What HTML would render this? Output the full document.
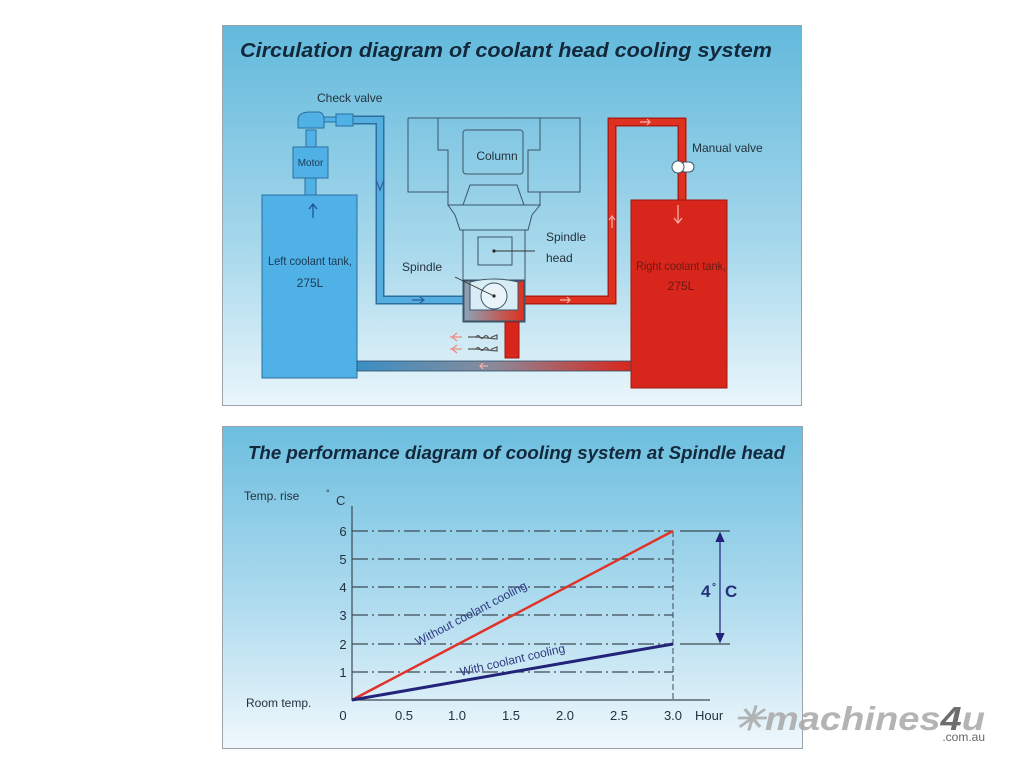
<!DOCTYPE html>
<html><head><meta charset="utf-8"><style>
html,body{margin:0;padding:0;background:#fff;width:1024px;height:768px;overflow:hidden}
svg{display:block}
text{font-family:"Liberation Sans",sans-serif}
</style></head><body>
<svg width="1024" height="768" viewBox="0 0 1024 768" xmlns="http://www.w3.org/2000/svg">
<defs>
<linearGradient id="bg1" x1="0" y1="0" x2="0" y2="1">
<stop offset="0" stop-color="#62b9dc"/><stop offset="0.6" stop-color="#a9d9ec"/><stop offset="1" stop-color="#eaf6fb"/></linearGradient>
<linearGradient id="bg2" x1="0" y1="0" x2="0" y2="1">
<stop offset="0" stop-color="#6cbedf"/><stop offset="0.6" stop-color="#b5def0"/><stop offset="1" stop-color="#f0f8fc"/></linearGradient>
<linearGradient id="pb" x1="0" y1="0" x2="1" y2="0">
<stop offset="0" stop-color="#3a8fc4"/><stop offset="0.5" stop-color="#8a8a9a"/><stop offset="1" stop-color="#d9261c"/></linearGradient>
<linearGradient id="sp" x1="0" y1="0" x2="1" y2="0">
<stop offset="0" stop-color="#8aa4b8"/><stop offset="1" stop-color="#e0301f"/></linearGradient>
</defs>
<!-- top panel -->
<rect x="222.5" y="25.5" width="579" height="380" fill="url(#bg1)" stroke="#9aa4aa"/>
<text x="240" y="57" font-size="20" font-weight="bold" font-style="italic" fill="#13283a" textLength="532" lengthAdjust="spacingAndGlyphs">Circulation diagram of coolant head cooling system</text>
<!-- blue pipe -->
<path d="M352 120 H380 V300 H463" fill="none" stroke="#2c6f9f" stroke-width="9"/>
<path d="M352 120 H380 V300 H463" fill="none" stroke="#55aee0" stroke-width="6"/>
<path d="M376 180 l4 10 l4 -10" fill="none" stroke="#2c5f9f" stroke-width="1.2"/>
<path d="M412 300 h12 m-4 -3 l4 3 l-4 3" fill="none" stroke="#2c5f9f" stroke-width="1.3"/>
<!-- left tank -->
<rect x="262" y="195" width="95" height="183" fill="#4fb1e6" stroke="#2c6f9f"/>
<text x="310" y="265" font-size="12" fill="#1b3a55" text-anchor="middle" textLength="84" lengthAdjust="spacingAndGlyphs">Left coolant tank,</text>
<text x="310" y="287" font-size="12" fill="#1b3a55" text-anchor="middle">275L</text>
<path d="M313 218 V204 m-4 5 l4 -5 l4 5" fill="none" stroke="#1f4fa0" stroke-width="1.3"/>
<rect x="305" y="178" width="11" height="17" fill="#4fb1e6" stroke="#2c6f9f"/>
<rect x="293" y="147" width="35" height="31" fill="#4fb1e6" stroke="#2c6f9f"/>
<text x="310.5" y="166" font-size="10" fill="#1b3a55" text-anchor="middle">Motor</text>
<rect x="306" y="130" width="10" height="17" fill="#4fb1e6" stroke="#2c6f9f"/>
<path d="M298 128 v-8 q0 -8 12 -8 h8 q6 0 6 8 v8 z" fill="#4fb1e6" stroke="#2c6f9f"/>
<rect x="324" y="117" width="12" height="5" fill="#4fb1e6" stroke="#2c6f9f"/>
<rect x="336" y="114" width="17" height="12" fill="#4fb1e6" stroke="#2c6f9f"/>
<text x="317" y="102" font-size="12" fill="#24323e">Check valve</text>
<!-- column -->
<g fill="none" stroke="#3b5568" stroke-width="1">
<path d="M408 118 H580 V192 H528 V150 H540 V118 M408 118 V192 H448 V150 H438 V118"/>
<rect x="463" y="130" width="60" height="44" rx="3"/>
<path d="M448 192 V205 H463 L470 185 H517 L524 205 H540 V192"/>
<path d="M448 205 H540 L532 215 L528 230 H460 L455 215 Z"/>
<path d="M460 230 H528 M463 230 V280 M525 230 V280"/>
<rect x="478" y="237" width="34" height="28"/>
<rect x="463" y="280" width="62" height="42"/>
</g>
<text x="497" y="160" font-size="12" fill="#24323e" text-anchor="middle">Column</text>
<rect x="464" y="281" width="60" height="40" fill="url(#sp)" stroke="#3b5568"/>
<path d="M470 282 V310 H518 V282 Q494 276 470 282" fill="#d8ecf5" stroke="#3b5568"/>
<circle cx="494" cy="296" r="13" fill="#e8f4fa" stroke="#3b5568"/>
<circle cx="494" cy="296" r="1.6" fill="#222"/>
<circle cx="494" cy="251" r="1.6" fill="#222"/>
<path d="M494 251 H535 M494 296 L455 277" stroke="#333" stroke-width="0.9"/>
<text x="546" y="241" font-size="12" fill="#24323e">Spindle</text>
<text x="546" y="262" font-size="12" fill="#24323e">head</text>
<text x="402" y="271" font-size="12" fill="#24323e">Spindle</text>
<!-- red pipe -->
<path d="M525 300 H612 V122 H682 V200" fill="none" stroke="#b01c14" stroke-width="9"/>
<path d="M525 300 H612 V122 H682 V200" fill="none" stroke="#e0301f" stroke-width="6"/>
<path d="M560 300 h10 m-3 -3 l3 3 l-3 3" fill="none" stroke="#f7b0a8" stroke-width="1.2"/>
<path d="M612 228 v-12 m-3 4 l3 -4 l3 4" fill="none" stroke="#f7b0a8" stroke-width="1.2"/>
<path d="M640 122 h10 m-3 -3 l3 3 l-3 3" fill="none" stroke="#f7b0a8" stroke-width="1.2"/>
<rect x="680" y="162" width="14" height="10" rx="5" fill="#fff" stroke="#3b5568"/>
<circle cx="678" cy="167" r="6" fill="#fff" stroke="#3b5568"/>
<text x="692" y="152" font-size="12" fill="#24323e">Manual valve</text>
<!-- right tank -->
<rect x="631" y="200" width="96" height="188" fill="#d9261c" stroke="#9c1a12"/>
<path d="M678 205 v18 m-4 -5 l4 5 l4 -5" fill="none" stroke="#f7b0a8" stroke-width="1.3"/>
<text x="681" y="270" font-size="12" fill="#6a1a12" text-anchor="middle" textLength="90" lengthAdjust="spacingAndGlyphs">Right coolant tank,</text>
<text x="681" y="290" font-size="12" fill="#6a1a12" text-anchor="middle">275L</text>
<!-- bottom pipe -->
<rect x="357" y="361" width="274" height="10" fill="url(#pb)" stroke="#2c4f6a" stroke-width="0.8"/>
<path d="M488 366 h-8 m3 -3 l-3 3 l3 3" fill="none" stroke="#f7b0a8" stroke-width="1.2"/>
<!-- drain -->
<rect x="505" y="322" width="14" height="36" fill="#d9261c" stroke="#9c1a12"/>
<g stroke="#555" stroke-width="1.2" fill="none">
<path d="M468 337 H476 M468 349 H476"/>
<path d="M476 337 q2 -3 4 0 q2 3 4 0 q2 -3 4 0 q2 3 4 0 l5 -2 v4 z M476 349 q2 -3 4 0 q2 3 4 0 q2 -3 4 0 q2 3 4 0 l5 -2 v4 z"/>
</g>
<path d="M450 337 h12 m-5 -4 l-5 4 l5 4 M450 349 h12 m-5 -4 l-5 4 l5 4" fill="none" stroke="#f08a80" stroke-width="1.3"/>

<!-- bottom panel -->
<rect x="222.5" y="426.5" width="580" height="322" fill="url(#bg2)" stroke="#9aa4aa"/>
<text x="248" y="459" font-size="18.5" font-weight="bold" font-style="italic" fill="#13283a" textLength="537" lengthAdjust="spacingAndGlyphs">The performance diagram of cooling system at Spindle head</text>
<text x="244" y="500" font-size="12" fill="#24323e">Temp. rise</text>
<text x="326" y="496" font-size="9" fill="#24323e">°</text>
<text x="336" y="505" font-size="13" fill="#24323e">C</text>
<g stroke="#3c4a55" stroke-width="1.3" stroke-dasharray="16 4 2 4" fill="none">
<path d="M352 531 H673 M352 559 H673 M352 587 H673 M352 615 H673 M352 644 H673 M352 672 H673"/>
</g>
<path d="M673 531 V700" stroke="#3c4a55" stroke-width="1" stroke-dasharray="6 3" fill="none"/>
<path d="M352 506 V700 H710" stroke="#3c4a55" stroke-width="1.2" fill="none"/>
<g font-size="13" fill="#24323e" text-anchor="middle">
<text x="343" y="536">6</text><text x="343" y="564">5</text><text x="343" y="592">4</text><text x="343" y="620">3</text><text x="343" y="649">2</text><text x="343" y="677">1</text>
<text x="343" y="720">0</text><text x="404" y="720">0.5</text><text x="457" y="720">1.0</text><text x="511" y="720">1.5</text><text x="565" y="720">2.0</text><text x="619" y="720">2.5</text><text x="673" y="720">3.0</text>
</g>
<text x="695" y="720" font-size="13" fill="#24323e">Hour</text>
<text x="246" y="707" font-size="12" fill="#24323e">Room temp.</text>
<line x1="352" y1="700" x2="673" y2="531" stroke="#e0332a" stroke-width="2.5"/>
<line x1="352" y1="700" x2="673" y2="644" stroke="#23237a" stroke-width="3"/>
<text font-size="12" fill="#2e3a80" transform="translate(418 646) rotate(-27.8)">Without coolant cooling</text>
<text font-size="12" fill="#2e3a80" transform="translate(461 676) rotate(-13)">With coolant cooling</text>
<path d="M680 531 H730 M680 644 H730" stroke="#3c4a55" stroke-width="1.2"/>
<path d="M720 535 V640 M716 542 l4 -9 l4 9 M716 633 l4 9 l4 -9" stroke="#23237a" stroke-width="1.2" fill="#23237a"/>
<text x="701" y="597" font-size="17" font-weight="bold" fill="#23307a">4</text>
<text x="712" y="590" font-size="10" font-weight="bold" fill="#23307a">°</text>
<text x="725" y="597" font-size="17" font-weight="bold" fill="#23307a">C</text>
<!-- watermark -->
<text x="733" y="730" font-size="33" font-weight="bold" font-style="italic" fill="#a8a8a8" opacity="0.85" textLength="252" lengthAdjust="spacingAndGlyphs">✳machines<tspan fill="#555">4</tspan>u</text>
<text x="985" y="741" font-size="12" fill="#666" text-anchor="end">.com.au</text>
</svg>
</body></html>
